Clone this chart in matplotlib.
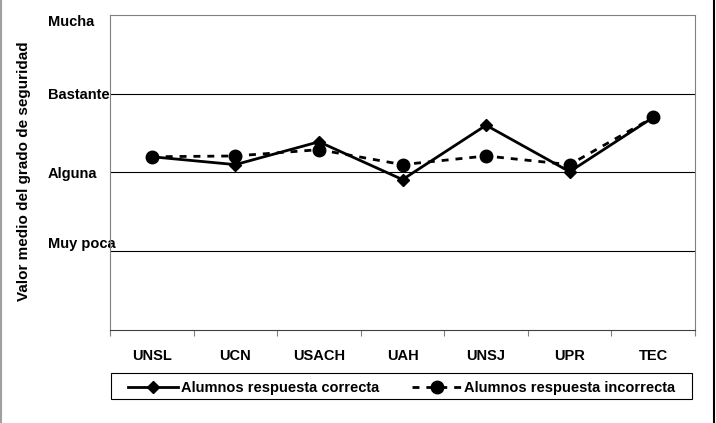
import matplotlib
matplotlib.use("Agg")
import matplotlib.pyplot as plt
from matplotlib.lines import Line2D
from matplotlib.patches import Rectangle
import numpy as np

categories = ["UNSL", "UCN", "USACH", "UAH", "UNSJ", "UPR", "TEC"]
correcta = [2.20, 2.10, 2.39, 1.91, 2.60, 2.01, 2.70]
incorrecta = [2.20, 2.21, 2.29, 2.10, 2.21, 2.10, 2.70]
ytick_vals = [1, 2, 3, 4]
ytick_labels = ["Muy poca", "Alguna", "Bastante", "Mucha"]
series_labels = ["Alumnos respuesta correcta", "Alumnos respuesta incorrecta"]
ylabel = "Valor medio del grado de seguridad"

plt.rcParams['font.family'] = ['Liberation Sans', 'DejaVu Sans']
plt.rcParams['font.weight'] = 'bold'

W, H = 716, 423
fig = plt.figure(figsize=(W / 100, H / 100), dpi=100)
ax = fig.add_axes([110 / W, 1 - 330 / H, 585 / W, 315 / H])

x = np.arange(len(categories))
ax.plot(x, correcta, color='black', lw=2.0, marker='D', markersize=6,
        label=series_labels[0], zorder=3)
ax.plot(x, incorrecta, color='black', lw=2.0, ls=(0, (2.5, 2.5)), marker='o',
        markersize=9, label=series_labels[1], zorder=4)

ax.set_xlim(-0.5, len(categories) - 0.5)
ax.set_ylim(0, 4)

# gridlines
for v in ytick_vals[:-1]:
    ax.axhline(v, color='black', lw=0.8, zorder=1)

ax.set_yticks(ytick_vals)
ax.set_yticklabels(ytick_labels, fontsize=10.5, fontweight='bold')
ylabs = ax.get_yticklabels()
for lab in ylabs:
    lab.set_ha('left')
ylabs[0].set_va('bottom')
ylabs[3].set_va('top')
ax.tick_params(axis='y', length=0, pad=(110 - 48) * 0.72)

ax.set_xticks(x)
ax.set_xticklabels(categories, fontsize=10.5, fontweight='bold')
ax.tick_params(axis='x', which='major', length=0, pad=14)
ax.set_xticks(np.arange(-0.5, len(categories), 1.0), minor=True)
ax.tick_params(axis='x', which='minor', length=4, color='#808080', width=0.8)

for s in ['left', 'top', 'right']:
    ax.spines[s].set_color('#808080')
    ax.spines[s].set_linewidth(0.8)
ax.spines['bottom'].set_color('#404040')
ax.spines['bottom'].set_linewidth(0.8)

ax.set_ylabel(ylabel, fontsize=11, fontweight='bold')
ax.yaxis.set_label_coords(-0.135, 0.503)

# legend box
fig.add_artist(Rectangle((111 / W, 1 - 399 / H), 581 / W, 26 / H,
                         transform=fig.transFigure, fill=False,
                         edgecolor='black', lw=0.8))
leg = fig.legend(loc='lower left', ncol=2, mode='expand',
                 bbox_to_anchor=(124 / W, 1 - 399 / H, 556 / W, 26 / H),
                 frameon=False,
                 prop={'size': 10.5, 'weight': 'bold'}, handlelength=3.4,
                 borderaxespad=0, handletextpad=0.2, borderpad=0.3)

# outer frame lines
fig.add_artist(Line2D([1 / W, 1 / W], [0, 1], color='#a0a0a0', lw=1.5))
fig.add_artist(Line2D([713.5 / W, 713.5 / W], [0, 1], color='black', lw=1.5))

fig.savefig("out.png", dpi=100)
